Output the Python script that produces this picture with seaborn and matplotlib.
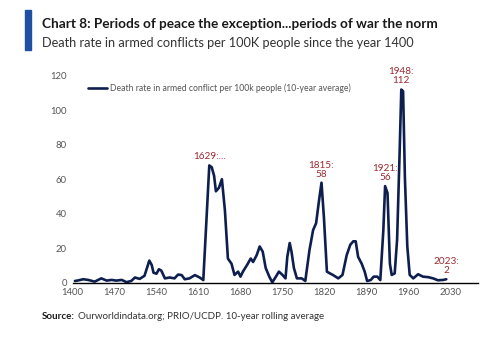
import matplotlib
matplotlib.use("Agg")
import matplotlib.pyplot as plt
import seaborn as sns
import pandas as pd

years = [1404, 1408, 1418, 1426, 1437, 1448, 1457, 1465, 1473, 1482, 1490, 1498,
         1504, 1512, 1520, 1528, 1532, 1535, 1540, 1544, 1548, 1554, 1562, 1570,
         1576, 1582, 1587, 1595, 1604, 1612, 1618, 1628, 1632, 1636, 1639, 1644,
         1649, 1654, 1659, 1665, 1670, 1676, 1680, 1684, 1691, 1697, 1701, 1707,
         1712, 1717, 1722, 1728, 1733, 1739, 1744, 1750, 1755, 1758, 1762, 1765,
         1769, 1774, 1782, 1788, 1795, 1801, 1806, 1811, 1815, 1819, 1824, 1829,
         1834, 1843, 1850, 1857, 1863, 1868, 1872, 1876, 1882, 1887, 1891, 1897,
         1902, 1908, 1913, 1918, 1921, 1925, 1929, 1932, 1937, 1941, 1945, 1948,
         1951, 1954, 1958, 1962, 1968, 1976, 1984, 1993, 2001, 2009, 2018, 2023]
death_rate = [1.0, 1.2, 2.0, 1.6, 0.6, 2.5, 1.2, 1.6, 1.2, 1.6, 0.3, 1.0,
              3.0, 2.2, 4.0, 12.8, 10.3, 5.8, 5.2, 7.8, 7.0, 2.5, 3.0, 2.5,
              4.7, 4.4, 2.0, 2.5, 4.4, 3.0, 1.5, 68, 67, 62, 53, 55,
              60, 42, 14, 11, 4.5, 6.4, 3.5, 6.4, 10.3, 14, 12, 16,
              21, 18, 8.5, 3.5, 0.2, 3.5, 6.4, 4.5, 2.5, 15, 23, 18,
              8.5, 2.5, 2.5, 1.0, 19, 30.5, 34.5, 48, 58, 38, 6.4, 5.4,
              4.5, 2.5, 4.5, 16, 22, 24, 24, 15, 11, 6.4, 1.0, 1.5,
              3.5, 3.5, 1.5, 30, 56, 52, 11, 4.5, 5.4, 25, 73, 112,
              111, 61, 21, 4.5, 2.5, 4.9, 3.5, 3.2, 2.5, 1.4, 1.6, 2.0]

x_ticks = list(range(1400, 2031, 70))
y_ticks = list(range(0, 121, 20))

callouts = [(1629, 68, "1629:..."), (1815, 58, "1815:\n58"), (1921, 56, "1921:\n56"),
            (1948, 112, "1948:\n112"), (2023, 2, "2023:\n2")]

series_name = "Death rate in armed conflict per 100k people (10-year average)"
df = pd.DataFrame({"year": years, "rate": death_rate})

sns.set_theme(style="white")
plt.rcParams["font.family"] = ["Lato", "DejaVu Sans"]

navy = "#0e1f4f"
red = "#9b2b30"
grey = "#555555"

fig = plt.figure(figsize=(5.0, 3.46), dpi=100)
ax = fig.add_axes([0.145, 0.183, 0.81, 0.598])

sns.lineplot(data=df, x="year", y="rate", ax=ax, color=navy, linewidth=1.9,
             label=series_name)

ax.set_xlim(1400, 2075)
ax.set_ylim(0, 120)
ax.set_xticks(x_ticks)
ax.set_yticks(y_ticks)
ax.tick_params(axis="both", length=0, labelsize=6.8, labelcolor=grey, pad=4)
ax.set_xlabel("")
ax.set_ylabel("")
for side in ["top", "right", "left"]:
    ax.spines[side].set_visible(False)
ax.spines["bottom"].set_color("black")
ax.spines["bottom"].set_linewidth(1.0)

leg = ax.legend(loc="upper left", bbox_to_anchor=(0.02, 1.0), frameon=False,
                fontsize=6.2, handlelength=2.2, handletextpad=0.3)
for t in leg.get_texts():
    t.set_color(grey)

for yr, val, txt in callouts:
    ax.annotate(txt, xy=(yr, val), xytext=(0, 3), textcoords="offset points",
                ha="center", va="bottom", fontsize=7.2, color=red,
                linespacing=1.0, annotation_clip=False)

# header block
fig.patches.append(plt.Rectangle((0.05, 0.855), 0.012, 0.115, transform=fig.transFigure,
                                 color="#1f4fa3", zorder=5))
fig.text(0.084, 0.93, "Chart 8: Periods of peace the exception...periods of war the norm",
         fontsize=9.8, fontweight="bold", color="#1a1a1a", va="center", ha="left")
fig.text(0.084, 0.875, "Death rate in armed conflicts per 100K people since the year 1400",
         fontsize=9.2, color="#333333", va="center", ha="left")

src = fig.text(0.084, 0.085, "Source:", fontsize=7.0, fontweight="bold",
               color="#1a1a1a", va="center", ha="left")
fig.canvas.draw()
bb = src.get_window_extent().transformed(fig.transFigure.inverted())
fig.text(bb.x1 + 0.006, 0.085, "Ourworldindata.org; PRIO/UCDP. 10-year rolling average",
         fontsize=7.0, color="#333333", va="center", ha="left")

fig.savefig("out.png", dpi=100)
